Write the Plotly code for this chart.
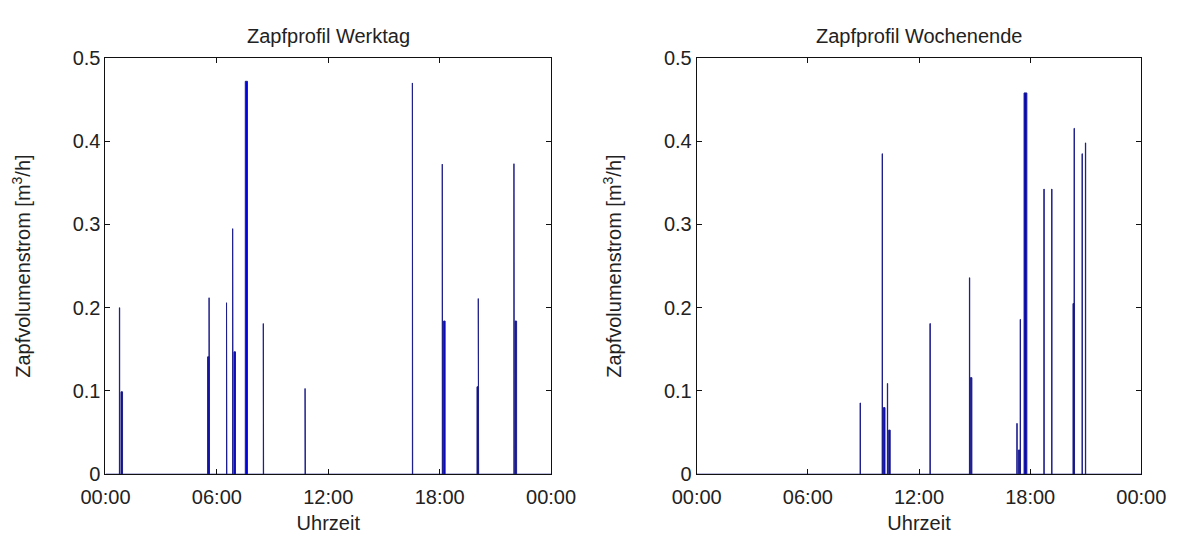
import plotly.graph_objects as go

# ---------------- data ----------------
# each tap event: start time [h], flow [m3/h], duration [min]
werktag_start = [0.748, 0.835, 5.50, 5.58, 6.52, 6.85, 6.92, 7.53, 8.50, 10.75,
                 16.53, 18.14, 18.21, 20.01, 20.08, 22.00, 22.06]
werktag_value = [0.200, 0.099, 0.141, 0.212, 0.206, 0.295, 0.147, 0.472, 0.181, 0.103,
                 0.470, 0.3725, 0.184, 0.105, 0.211, 0.373, 0.184]
werktag_dur = [1, 5, 5, 1, 1, 1, 5, 7, 1, 1,
               1, 1, 5, 5, 1, 1, 5]

wochenende_start = [8.82, 10.01, 10.08, 10.29, 10.36, 12.59, 14.72, 14.77, 17.28, 17.36,
                    17.46, 17.67, 18.74, 19.16, 20.31, 20.37, 20.80, 20.98]
wochenende_value = [0.0856, 0.385, 0.080, 0.109, 0.053, 0.181, 0.236, 0.116, 0.061, 0.029,
                    0.186, 0.458, 0.3425, 0.3425, 0.205, 0.4155, 0.385, 0.398]
wochenende_dur = [1, 1, 5, 1, 5, 1, 1, 5, 1, 5,
                  1, 9, 1, 1, 5, 1, 1, 1]

x_tickvals = [0, 6, 12, 18, 24]
x_ticktext = ["00:00", "06:00", "12:00", "18:00", "00:00"]
y_tickvals = [0, 0.1, 0.2, 0.3, 0.4, 0.5]
y_ticktext = ["0", "0.1", "0.2", "0.3", "0.4", "0.5"]

titles = ["Zapfprofil Werktag", "Zapfprofil Wochenende"]
x_title = "Uhrzeit"
y_title = "Zapfvolumenstrom [m<sup>3</sup>/h]"

EDGE = "#1e1e8a"
FILL = "#0000e0"
FONT = "Liberation Sans, Arial, sans-serif"
TXT = "#222222"


def profile(starts, values, durs):
    xs, ys = [0.0], [0.0]
    for t, v, d in sorted(zip(starts, values, durs)):
        te = t + d / 60.0
        xs += [t, t, te, te]
        ys += [0.0, v, v, 0.0]
    xs.append(24.0)
    ys.append(0.0)
    return xs, ys


fig = go.Figure()
for i, (s, v, d) in enumerate([(werktag_start, werktag_value, werktag_dur),
                               (wochenende_start, wochenende_value, wochenende_dur)]):
    xs, ys = profile(s, v, d)
    suffix = "" if i == 0 else "2"
    fig.add_trace(go.Scatter(x=xs, y=ys, mode="lines", fill="tozeroy",
                             fillcolor=FILL, line=dict(color=EDGE, width=1),
                             xaxis="x" + suffix, yaxis="y" + suffix,
                             showlegend=False, hoverinfo="skip"))

ydom = [1 - 483 / 537, 1 - 49 / 537]
xdoms = [[84 / 1197, 549 / 1197], [701 / 1197, 1165 / 1197]]

axis_common = dict(showline=True, linecolor="#111111", linewidth=1, mirror="ticks",
                   ticks="inside", ticklen=5, tickcolor="#111111", showgrid=False,
                   zeroline=False, tickfont=dict(family=FONT, size=20, color=TXT))

layout = dict(width=1197, height=537, margin=dict(l=0, r=0, t=0, b=0),
              paper_bgcolor="white", plot_bgcolor="white",
              font=dict(family=FONT, size=20, color=TXT), annotations=[])

for i in range(2):
    suffix = "" if i == 0 else "2"
    layout["xaxis" + suffix] = dict(axis_common, domain=xdoms[i], range=[0, 24],
                                    tickvals=x_tickvals, ticktext=x_ticktext,
                                    anchor="y" + suffix, ticklabelstandoff=5,
                                    title=dict(text=x_title, standoff=8,
                                               font=dict(family=FONT, size=20, color=TXT)))
    layout["yaxis" + suffix] = dict(axis_common, domain=ydom, range=[0, 0.5],
                                    tickvals=y_tickvals, ticktext=y_ticktext,
                                    anchor="x" + suffix,
                                    title=dict(text=y_title, standoff=36,
                                               font=dict(family=FONT, size=20, color=TXT)))
    layout["annotations"].append(dict(text=titles[i], xref="paper", yref="paper",
                                      x=(xdoms[i][0] + xdoms[i][1]) / 2, y=1 - 26 / 537,
                                      xanchor="center", yanchor="middle", showarrow=False,
                                      font=dict(family=FONT, size=20, color=TXT)))

fig.update_layout(**layout)
fig.write_html("out.html")
